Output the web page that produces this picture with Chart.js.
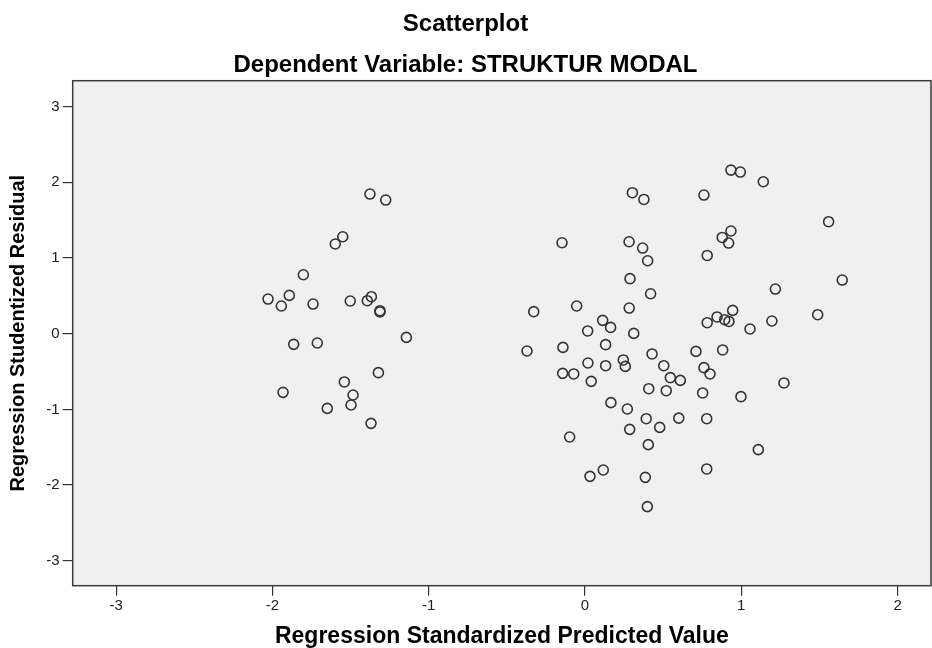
<!DOCTYPE html>
<html>
<head>
<meta charset="utf-8">
<script src="https://cdn.jsdelivr.net/npm/chart.js@4"></script>
<style>
  html, body { margin: 0; padding: 0; background: #fff; }
  #wrap { width: 932px; height: 648px; }
</style>
</head>
<body>
<div id="wrap"><canvas id="myChart" width="932" height="648"></canvas></div>
<script>
// regression standardized predicted value (x) and studentized residual (y)
const predicted = [
  -1.376, -1.275, -1.550, -1.598, -1.802, -2.028, -1.892, -1.943, -1.740, -1.502,
  -1.367, -1.393, -1.312, -1.312, -1.143, -1.864, -1.713, -1.322, -1.540, -1.484,
  -1.497, -1.932, -1.649, -1.369,
  0.303, 0.377, -0.147, 0.282, 0.369, 0.401, 0.288, 0.420, -0.328, -0.053,
  0.283, 0.113, 0.164, 0.017, 0.312, 0.132, -0.371, -0.141, 0.429, 0.019,
  0.132, 0.245, 0.258, 0.504, -0.143, -0.072, 0.040, 0.546, 0.610, 0.408,
  0.520, 0.166, 0.271, 0.392, 0.600, 0.478, 0.286, -0.098, 0.405, 0.117,
  0.032, 0.386, 0.399,
  0.934, 0.994, 1.141, 0.761, 1.559, 0.934, 0.878, 0.919, 0.782, 1.646,
  1.218, 0.945, 0.845, 0.894, 0.921, 0.782, 1.196, 1.489, 1.056, 0.710,
  0.881, 0.761, 0.800, 1.273, 0.753, 0.998, 0.779, 1.109, 0.779
];
const residual = [
  1.845, 1.766, 1.281, 1.185, 0.779, 0.458, 0.506, 0.366, 0.392, 0.432,
  0.489, 0.436, 0.304, 0.287, -0.049, -0.141, -0.123, -0.515, -0.638, -0.810,
  -0.942, -0.775, -0.987, -1.185,
  1.863, 1.774, 1.202, 1.215, 1.132, 0.964, 0.727, 0.528, 0.291, 0.366,
  0.339, 0.176, 0.083, 0.036, 0.004, -0.145, -0.229, -0.181, -0.268, -0.387,
  -0.423, -0.347, -0.432, -0.423, -0.524, -0.532, -0.630, -0.581, -0.617, -0.727,
  -0.753, -0.911, -0.995, -1.123, -1.116, -1.238, -1.264, -1.365, -1.466, -1.801,
  -1.885, -1.898, -2.285,
  2.162, 2.136, 2.008, 1.832, 1.480, 1.357, 1.272, 1.198, 1.034, 0.709,
  0.590, 0.308, 0.221, 0.185, 0.162, 0.145, 0.168, 0.251, 0.062, -0.234,
  -0.215, -0.449, -0.532, -0.651, -0.783, -0.832, -1.123, -1.532, -1.787
];
const xTicks = [-3, -2, -1, 0, 1, 2];
const yTicks = [-3, -2, -1, 0, 1, 2, 3];

const FONT = '"Liberation Sans", Arial, sans-serif';

// grey plot background and dark frame round the plot area
const plotFrame = {
  id: 'plotFrame',
  beforeDatasetsDraw(chart) {
    const a = chart.chartArea, ctx = chart.ctx;
    ctx.save();
    ctx.fillStyle = '#f0f0f0';
    ctx.fillRect(a.left, a.top, a.right - a.left, a.bottom - a.top);
    ctx.restore();
  },
  afterDatasetsDraw(chart) {
    const a = chart.chartArea, ctx = chart.ctx;
    ctx.save();
    ctx.strokeStyle = '#3a3a3a';
    ctx.lineWidth = 1.5;
    ctx.strokeRect(a.left, a.top, a.right - a.left, a.bottom - a.top);
    ctx.restore();
  }
};

const points = predicted.map((x, i) => ({ x: x, y: residual[i] }));

new Chart(document.getElementById('myChart'), {
  type: 'scatter',
  data: {
    datasets: [{
      data: points,
      pointStyle: 'circle',
      pointRadius: 5,
      pointHoverRadius: 5,
      pointBorderWidth: 1.6,
      borderColor: '#333',
      backgroundColor: 'rgba(0,0,0,0)'
    }]
  },
  options: {
    responsive: false,
    animation: false,
    layout: { autoPadding: false, padding: { top: 0, right: 1, bottom: 0, left: 0 } },
    plugins: {
      legend: { display: false },
      tooltip: { enabled: false },
      title: {
        display: true,
        text: 'Scatterplot',
        color: '#000',
        font: { family: FONT, size: 24, weight: 'bold', lineHeight: 1.2 },
        padding: { top: 9.6, bottom: 6 }
      },
      subtitle: {
        display: true,
        text: 'Dependent Variable: STRUKTUR MODAL',
        color: '#000',
        font: { family: FONT, size: 24, weight: 'bold', lineHeight: 1.2 },
        padding: { top: 6.2, bottom: 1.3 }
      }
    },
    scales: {
      x: {
        type: 'linear',
        min: -3.278,
        max: 2.214,
        afterBuildTicks(scale) { scale.ticks = xTicks.map(v => ({ value: v })); },
        afterFit(scale) { scale.height = 62.3; },
        grid: { display: true, drawOnChartArea: false, drawTicks: true, tickLength: 10, color: '#333', lineWidth: 1.2 },
        border: { display: false },
        ticks: { color: '#222', font: { family: FONT, size: 15 }, padding: 1, maxRotation: 0 },
        title: {
          display: true,
          text: 'Regression Standardized Predicted Value',
          color: '#000',
          font: { family: FONT, size: 23, weight: 'bold', lineHeight: 1.2 },
          padding: { top: 0, bottom: -2.5 }
        }
      },
      y: {
        type: 'linear',
        min: -3.33,
        max: 3.343,
        afterBuildTicks(scale) { scale.ticks = yTicks.map(v => ({ value: v })); },
        afterFit(scale) { scale.width = 72.7; },
        grid: { display: true, drawOnChartArea: false, drawTicks: true, tickLength: 10, color: '#333', lineWidth: 1.2 },
        border: { display: false },
        ticks: { color: '#222', font: { family: FONT, size: 15 }, padding: 3 },
        title: {
          display: true,
          text: 'Regression Studentized Residual',
          color: '#000',
          font: { family: FONT, size: 20, weight: 'bold', lineHeight: 1.2 },
          padding: { top: 6, bottom: 0 }
        }
      }
    }
  },
  plugins: [plotFrame]
});
</script>
</body>
</html>
